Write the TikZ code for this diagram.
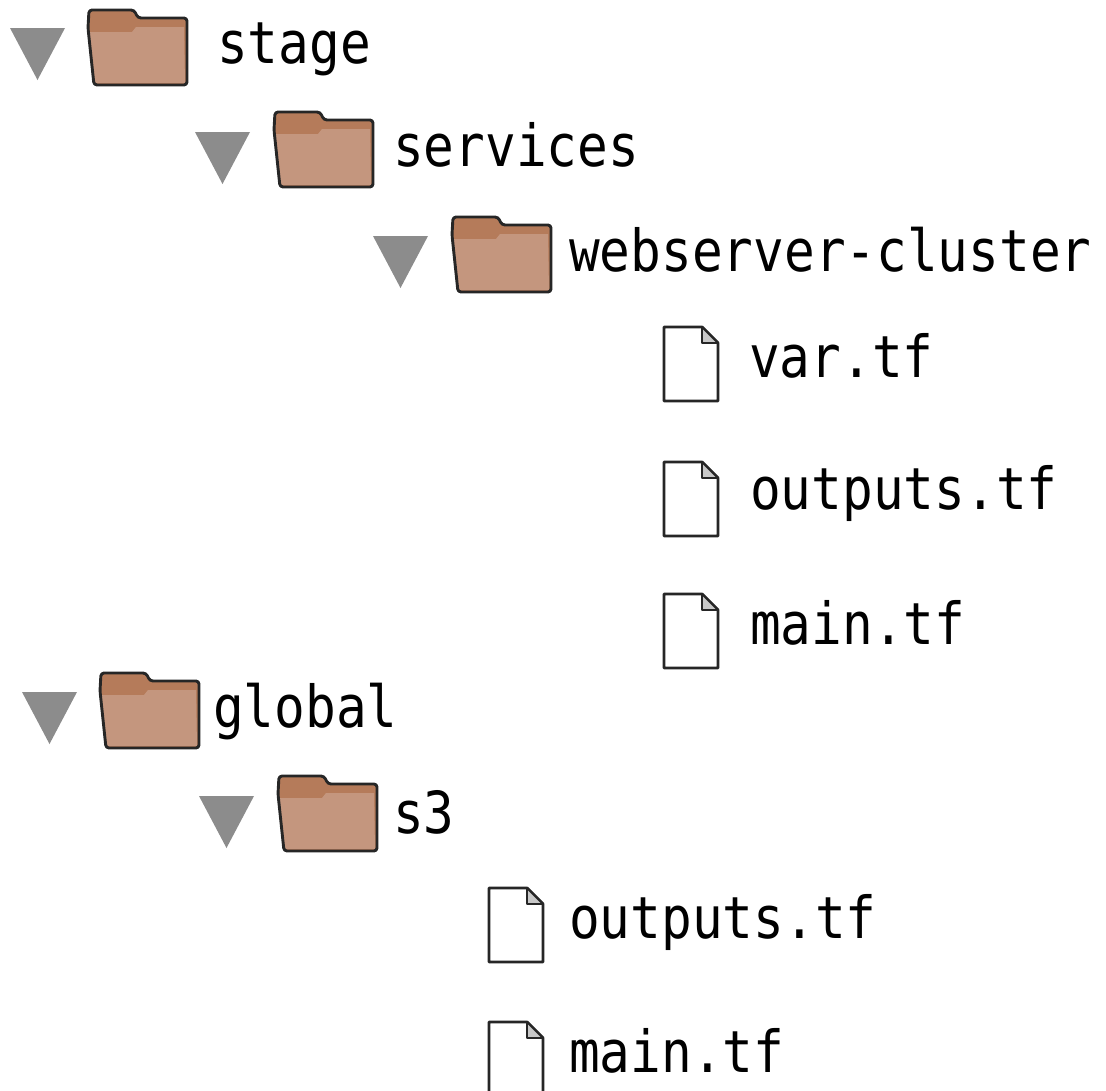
\documentclass[tikz,border=0pt]{standalone}
\usepackage{fontspec}
\newfontfamily\treefont[FakeStretch=0.88]{DejaVu Sans Mono}
\definecolor{folderback}{HTML}{B57B5A}
\definecolor{folderfront}{HTML}{C4967E}
\definecolor{expandgray}{HTML}{8C8C8C}
\definecolor{foldgray}{HTML}{C8C8C8}
\tikzset{
	outline/.style={draw=black!85, line width=2.9pt, line join=round},
	entry/.style={anchor=base west, inner sep=0pt, font=\treefont\fontsize{58}{60}\selectfont}
}
\newcommand{\expander}[2]{\fill[expandgray] (#1,#2) -- ++(55,0) -- ++(-27.5,52) -- cycle;}
\newcommand{\foldericon}[2]{%
	\begin{scope}[shift={(#1,#2)}]
		\fill[folderback, rounded corners=3pt] (0,18) -- (1,0) -- (46,0) -- (50,8) -- (99,8) -- (99,75) -- (6,75) -- cycle;
		\fill[folderfront] (1,22) -- (44,22) -- (48,17) -- (96,17) -- (97,73) -- (7,73) -- cycle;
		\draw[outline, rounded corners=3pt] (0,18) -- (1,0) -- (46,0) -- (50,8) -- (99,8) -- (99,75) -- (6,75) -- cycle;
	\end{scope}}
\newcommand{\fileicon}[2]{%
	\begin{scope}[shift={(#1,#2)}]
		\filldraw[outline, fill=white] (0,0) -- (38,0) -- (54,16) -- (54,74) -- (0,74) -- cycle;
		\filldraw[outline, fill=foldgray, line width=1.8pt] (38,0) -- (38,16) -- (54,16) -- cycle;
	\end{scope}}
\begin{document}
\begin{tikzpicture}[x=1pt, y=-1pt]
	\useasboundingbox (0,0) rectangle (1106,1090);
		\expander{10}{28} \foldericon{88}{10}
		\node[entry] (stage) at (217,63) {stage};
		\expander{195}{132} \foldericon{274}{112}
		\node[entry] (services) at (393,166) {services};
		\expander{373}{236} \foldericon{452}{217}
		\node[entry] (cluster) at (569,271) {webserver-cluster};
		\fileicon{664}{327}
		\node[entry] (var) at (749,377) {var.tf};
		\fileicon{664}{462}
		\node[entry] (outputs) at (750,509) {outputs.tf};
		\fileicon{664}{594}
		\node[entry] (main) at (750,644) {main.tf};
		\expander{22}{692} \foldericon{100}{673}
		\node[entry] (global) at (213,727) {global};
		\expander{199}{796} \foldericon{278}{776}
		\node[entry] (sthree) at (393,833) {s3};
		\fileicon{489}{888}
		\node[entry] (s3outputs) at (569,938) {outputs.tf};
		\fileicon{489}{1022}
		\node[entry] (s3main) at (569,1072) {main.tf};
	\end{tikzpicture}
\end{document}
